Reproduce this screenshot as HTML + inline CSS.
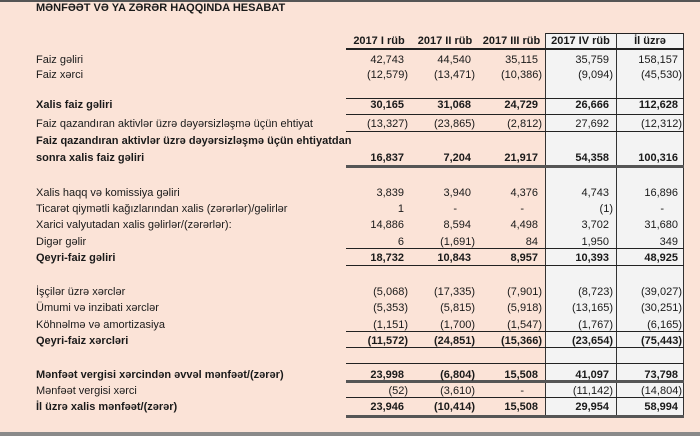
<!DOCTYPE html>
<html><head><meta charset="utf-8"><style>
body{margin:0;width:700px;height:436px;overflow:hidden;background:#fbe3d7;font-family:"Liberation Sans",sans-serif;font-size:11px;color:#1a1a1a;position:relative}
div{position:absolute;white-space:nowrap}
.l{left:36px;height:14px;line-height:14px}
.b{font-weight:bold}
.h{left:346px;width:338px;background:#222}
.c{width:70px;text-align:right;height:14px;line-height:14px}
.p{padding-right:4px;box-sizing:border-box}
.d{padding-right:18px;box-sizing:border-box}
.k1{left:338px}.k2{left:405px}.k3{left:472px}.k4{left:543px}.k5{left:612px}
.hd{top:33px;height:16px;line-height:16px;text-align:center;font-weight:bold}
</style></head><body>
<div style="left:0;top:0;width:700px;height:2px;background:#555"></div>
<div style="left:0;top:432px;width:700px;height:4px;background:#8a8a8a"></div>
<div class="l b" style="top:1px">MƏNFƏƏT VƏ YA ZƏRƏR HAQQINDA HESABAT</div>
<div style="left:545px;top:33px;width:139px;height:384px;background:#f3f3f3"></div>
<div style="left:545px;top:33px;width:139px;height:1px;background:#222"></div>
<div style="left:545px;top:33px;width:1px;height:384px;background:#333"></div>
<div style="left:616px;top:33px;width:1px;height:384px;background:#333"></div>
<div style="left:683px;top:33px;width:1px;height:384px;background:#333"></div>
<div class="hd" style="left:346px;width:66px">2017 I rüb</div>
<div class="hd" style="left:412px;width:66px">2017 II rüb</div>
<div class="hd" style="left:478px;width:67px">2017 III rüb</div>
<div class="hd" style="left:545px;width:71px">2017 IV rüb</div>
<div class="hd" style="left:616px;width:68px">İl üzrə</div>
<div class="h" style="top:48px;height:2px"></div>
<div class="h" style="top:98px;height:1px"></div>
<div class="h" style="top:114px;height:1px"></div>
<div class="h" style="top:131px;height:1px"></div>
<div class="h" style="top:165px;height:3px;background:#555"></div>
<div class="h" style="top:248px;height:1px"></div>
<div class="h" style="top:265px;height:1px"></div>
<div class="h" style="top:331px;height:1px"></div>
<div class="h" style="top:347px;height:1px"></div>
<div class="h" style="top:363px;height:1px"></div>
<div class="h" style="top:380px;height:3px;background:#555"></div>
<div class="h" style="top:397px;height:1px"></div>
<div class="h" style="top:415px;height:3px;background:#555"></div>

<div class="l" style="top:53px">Faiz gəliri</div>
<div class="c p k1" style="top:53px">42,743</div><div class="c p k2" style="top:53px">44,540</div><div class="c p k3" style="top:53px">35,115</div><div class="c p k4" style="top:53px">35,759</div><div class="c p k5" style="top:53px">158,157</div>
<div class="l" style="top:68px">Faiz xərci</div>
<div class="c k1" style="top:68px">(12,579)</div><div class="c k2" style="top:68px">(13,471)</div><div class="c k3" style="top:68px">(10,386)</div><div class="c k4" style="top:68px">(9,094)</div><div class="c k5" style="top:68px">(45,530)</div>
<div class="l b" style="top:98px">Xalis faiz gəliri</div>
<div class="c p k1 b" style="top:98px">30,165</div><div class="c p k2 b" style="top:98px">31,068</div><div class="c p k3 b" style="top:98px">24,729</div><div class="c p k4 b" style="top:98px">26,666</div><div class="c p k5 b" style="top:98px">112,628</div>
<div class="l" style="top:117px">Faiz qazandıran aktivlər üzrə dəyərsizləşmə üçün ehtiyat</div>
<div class="c k1" style="top:117px">(13,327)</div><div class="c k2" style="top:117px">(23,865)</div><div class="c k3" style="top:117px">(2,812)</div><div class="c p k4" style="top:117px">27,692</div><div class="c k5" style="top:117px">(12,312)</div>
<div class="l b" style="top:134px">Faiz qazandıran aktivlər üzrə dəyərsizləşmə üçün ehtiyatdan</div>
<div class="l b" style="top:151px">sonra xalis faiz gəliri</div>
<div class="c p k1 b" style="top:151px">16,837</div><div class="c p k2 b" style="top:151px">7,204</div><div class="c p k3 b" style="top:151px">21,917</div><div class="c p k4 b" style="top:151px">54,358</div><div class="c p k5 b" style="top:151px">100,316</div>

<div class="l" style="top:186px">Xalis haqq və komissiya gəliri</div>
<div class="c p k1" style="top:186px">3,839</div><div class="c p k2" style="top:186px">3,940</div><div class="c p k3" style="top:186px">4,376</div><div class="c p k4" style="top:186px">4,743</div><div class="c p k5" style="top:186px">16,896</div>
<div class="l" style="top:202px">Ticarət qiymətli kağızlarından xalis (zərərlər)/gəlirlər</div>
<div class="c p k1" style="top:202px">1</div><div class="c d k2" style="top:202px">-</div><div class="c d k3" style="top:202px">-</div><div class="c k4" style="top:202px">(1)</div><div class="c d k5" style="top:202px">-</div>
<div class="l" style="top:218px">Xarici valyutadan xalis gəlirlər/(zərərlər):</div>
<div class="c p k1" style="top:218px">14,886</div><div class="c p k2" style="top:218px">8,594</div><div class="c p k3" style="top:218px">4,498</div><div class="c p k4" style="top:218px">3,702</div><div class="c p k5" style="top:218px">31,680</div>
<div class="l" style="top:235px">Digər gəlir</div>
<div class="c p k1" style="top:235px">6</div><div class="c k2" style="top:235px">(1,691)</div><div class="c p k3" style="top:235px">84</div><div class="c p k4" style="top:235px">1,950</div><div class="c p k5" style="top:235px">349</div>
<div class="l b" style="top:251px">Qeyri-faiz gəliri</div>
<div class="c p k1 b" style="top:251px">18,732</div><div class="c p k2 b" style="top:251px">10,843</div><div class="c p k3 b" style="top:251px">8,957</div><div class="c p k4 b" style="top:251px">10,393</div><div class="c p k5 b" style="top:251px">48,925</div>

<div class="l" style="top:285px">İşçilər üzrə xərclər</div>
<div class="c k1" style="top:285px">(5,068)</div><div class="c k2" style="top:285px">(17,335)</div><div class="c k3" style="top:285px">(7,901)</div><div class="c k4" style="top:285px">(8,723)</div><div class="c k5" style="top:285px">(39,027)</div>
<div class="l" style="top:301px">Ümumi və inzibati xərclər</div>
<div class="c k1" style="top:301px">(5,353)</div><div class="c k2" style="top:301px">(5,815)</div><div class="c k3" style="top:301px">(5,918)</div><div class="c k4" style="top:301px">(13,165)</div><div class="c k5" style="top:301px">(30,251)</div>
<div class="l" style="top:318px">Köhnəlmə və amortizasiya</div>
<div class="c k1" style="top:318px">(1,151)</div><div class="c k2" style="top:318px">(1,700)</div><div class="c k3" style="top:318px">(1,547)</div><div class="c k4" style="top:318px">(1,767)</div><div class="c k5" style="top:318px">(6,165)</div>
<div class="l b" style="top:334px">Qeyri-faiz xərcləri</div>
<div class="c k1 b" style="top:334px">(11,572)</div><div class="c k2 b" style="top:334px">(24,851)</div><div class="c k3 b" style="top:334px">(15,366)</div><div class="c k4 b" style="top:334px">(23,654)</div><div class="c k5 b" style="top:334px">(75,443)</div>

<div class="l b" style="top:368px">Mənfəət vergisi xərcindən əvvəl mənfəət/(zərər)</div>
<div class="c p k1 b" style="top:368px">23,998</div><div class="c k2 b" style="top:368px">(6,804)</div><div class="c p k3 b" style="top:368px">15,508</div><div class="c p k4 b" style="top:368px">41,097</div><div class="c p k5 b" style="top:368px">73,798</div>
<div class="l" style="top:384px">Mənfəət vergisi xərci</div>
<div class="c k1" style="top:384px">(52)</div><div class="c k2" style="top:384px">(3,610)</div><div class="c d k3" style="top:384px">-</div><div class="c k4" style="top:384px">(11,142)</div><div class="c k5" style="top:384px">(14,804)</div>
<div class="l b" style="top:400px">İl üzrə xalis mənfəət/(zərər)</div>
<div class="c p k1 b" style="top:400px">23,946</div><div class="c k2 b" style="top:400px">(10,414)</div><div class="c p k3 b" style="top:400px">15,508</div><div class="c p k4 b" style="top:400px">29,954</div><div class="c p k5 b" style="top:400px">58,994</div>
</body></html>
